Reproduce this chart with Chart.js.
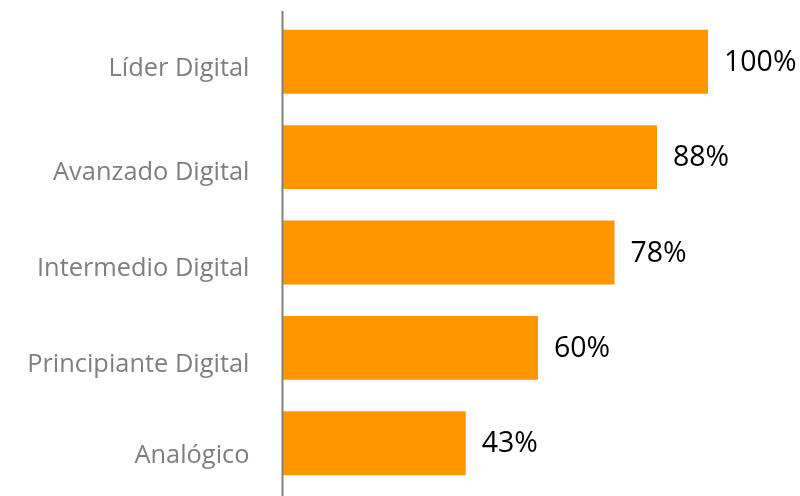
<!DOCTYPE html>
<html><head><meta charset="utf-8">
<script src="https://cdn.jsdelivr.net/npm/chart.js@4"></script>
<style>html,body{margin:0;padding:0;background:#fff;overflow:hidden}</style>
</head><body><canvas id="c" width="800" height="496"></canvas>
<script>
const categories = ["Líder Digital","Avanzado Digital","Intermedio Digital","Principiante Digital","Analógico"];
const values = [100, 88, 78, 60, 43];
const valueLabels = ["100%","88%","78%","60%","43%"];

// vertical nudges of category labels (style only)
const labelNudge = [7.5, 15.5, 16.5, 16.5, 12];

const decor = {
  id:'decor',
  afterDatasetsDraw(chart){
    const ctx = chart.ctx, a = chart.chartArea, ys = chart.scales.y;
    ctx.save();
    ctx.strokeStyle = '#808080'; ctx.lineWidth = 2;
    ctx.beginPath(); ctx.moveTo(a.left - 0.5, 11); ctx.lineTo(a.left - 0.5, 496); ctx.stroke();
    // category labels
    ctx.fillStyle = '#7f7f7f'; ctx.font = '25.4px "Open Sans"';
    ctx.textAlign = 'right'; ctx.textBaseline = 'middle';
    categories.forEach((c, i) => { ctx.fillText(c, a.left - 33.5, ys.getPixelForTick(i) + labelNudge[i]); });
    // value labels
    const meta = chart.getDatasetMeta(0);
    ctx.fillStyle = '#000'; ctx.font = '28.5px "Open Sans"';
    ctx.textAlign = 'left';
    meta.data.forEach((bar, i) => { ctx.fillText(valueLabels[i], bar.x + 16, bar.y + 1); });
    ctx.restore();
  }
};

new Chart(document.getElementById('c'), {
  type: 'bar',
  data: { labels: categories, datasets: [{ data: values, backgroundColor: '#ff9600', borderWidth: 0,
    barPercentage: 0.67, categoryPercentage: 1 }] },
  options: {
    indexAxis: 'y', responsive: false, animation: false, devicePixelRatio: 1,
    layout: { padding: { top: 14, bottom: 5, right: 92, left: 0 } },
    plugins: { legend: { display: false }, tooltip: { enabled: false } },
    scales: {
      x: { display: false, min: 0, max: 100 },
      y: { grid: { display: false }, border: { display: false },
        afterFit(s){ s.width = 283; s.paddingTop = 0; s.paddingBottom = 0; },
        ticks: { display: false } }
    }
  },
  plugins: [decor]
});
</script></body></html>
